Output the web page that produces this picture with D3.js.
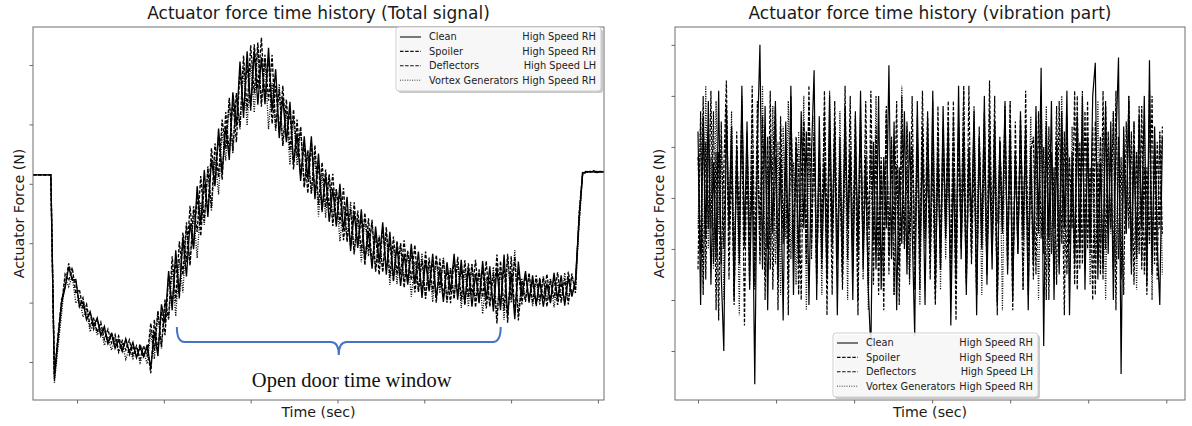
<!DOCTYPE html>
<html><head><meta charset="utf-8">
<script src="https://cdn.jsdelivr.net/npm/d3@7"></script>
<style>body{margin:0;background:#fff}svg text{font-family:"DejaVu Sans",sans-serif}</style>
</head><body><svg id="c" width="1192" height="426"></svg>
<script>
// ---------- legend / series ----------
const seriesNames = ["Clean", "Spoiler", "Deflectors", "Vortex Generators"];
const seriesCases = ["High Speed RH", "High Speed RH", "High Speed LH", "High Speed RH"];

// ---------- Total signal (left), uniformly sampled over the time range ----------
const totalTime = [-5.07, 60.7];
const totalClean = [315,315,315,315,315,315,-25,40,100,125,160,138,139,95,101,71,85,61,74,44,60,32,47,23,37,18,39,17,33,7,25,9,29,-11,51,10,97,65,153,87,188,112,209,144,234,190,296,231,323,244,341,296,393,317,397,340,454,397,506,411,523,428,524,433,513,434,529,423,493,377,446,370,438,334,384,305,380,308,380,274,351,256,315,236,292,228,300,222,278,187,252,192,257,171,221,157,228,168,235,147,219,139,197,128,182,130,199,132,186,108,171,119,182,108,155,101,168,118,182,105,172,99,159,93,149,99,170,105,161,85,159,87,181,77,150,72,169,110,153,100,146,97,137,93,132,99,150,106,146,95,142,110,138,240,318,320,321,320,319,320,320];
const totalSpoiler = [315,315,315,315,315,315,-30,35,95,148,137,159,115,122,89,98,60,73,50,67,38,55,32,46,19,36,20,37,11,27,5,27,9,65,19,86,25,105,73,178,102,203,146,235,162,262,219,313,237,326,259,368,311,408,359,445,355,453,396,516,424,533,452,538,430,517,440,517,393,459,364,442,356,425,346,396,294,356,284,365,265,336,261,316,229,291,233,293,202,258,181,255,186,251,187,237,152,210,151,227,143,211,147,200,125,187,138,197,118,173,106,176,117,180,125,173,100,156,106,177,104,171,109,165,92,156,109,170,93,150,65,170,87,182,106,177,70,136,101,150,99,146,103,142,93,138,108,151,100,140,97,149,116,250,316,321,320,322,320,321,320];
const totalDeflectors = [315,315,315,315,315,315,-20,45,105,127,166,140,135,93,108,74,81,55,72,47,55,31,50,29,44,20,36,12,27,9,30,10,25,-19,71,18,85,45,145,96,169,107,218,168,263,194,281,212,299,254,360,301,379,307,421,351,438,370,495,422,501,423,535,460,546,439,512,401,465,387,465,375,424,324,408,315,366,284,370,283,332,252,324,257,317,233,288,205,257,195,269,196,244,163,242,165,215,147,227,156,202,135,204,147,205,133,187,117,167,116,186,123,171,100,174,109,157,99,174,112,157,95,166,112,172,102,158,90,142,93,181,93,165,66,178,83,153,97,148,105,136,94,142,106,148,102,142,96,133,101,152,112,134,235,319,320,319,321,320,320,321];
const totalVortex = [315,315,315,315,315,315,-35,25,80,142,127,144,99,109,76,88,51,67,45,58,28,43,20,39,16,30,5,22,6,24,-1,16,-3,51,5,84,23,103,71,158,77,174,117,225,166,251,175,269,231,330,254,344,282,388,339,441,351,449,392,495,398,502,420,528,437,507,392,469,389,468,364,423,332,410,331,396,294,356,283,350,245,318,243,315,241,291,203,263,206,270,184,241,168,242,178,240,155,213,155,218,130,195,131,199,135,185,110,169,120,183,109,164,101,171,116,176,103,159,108,168,91,155,93,164,102,154,81,142,95,160,76,159,71,177,100,188,81,141,106,147,94,138,96,145,103,141,92,135,105,150,103,144,120,228,315,319,320,320,321,319,320];

// ---------- Vibration part (right) ----------
const vibTime = [0, 59.5];
const vibClean = [130,-210,160,-80,190,-170,70,-120,210,-150,-300,180,-60,140,-200,100,-130,220,-90,150,-180,60,-365,110,300,-140,180,-220,120,-70,190,-160,80,-240,150,-100,220,-190,110,-130,170,-60,130,-210,90,250,-200,160,-120,70,-160,200,-80,140,-230,120,-150,180,-60,90,-200,160,-110,210,-140,80,-180,-300,110,-140,200,-180,80,-60,260,-120,150,-220,60,-90,170,-150,130,-60,-270,190,-110,100,-210,160,-110,210,-180,90,-140,180,-80,150,-250,60,-160,220,-120,130,-190,100,-50,170,-230,120,-100,200,-170,80,-140,150,-210,110,-60,190,-150,130,-200,90,-110,170,-80,140,-220,100,-130,180,-60,255,-290,140,-80,190,-200,110,-150,170,-60,210,-230,90,-130,160,-100,200,-180,120,-90,200,265,-160,70,-140,180,-110,150,-200,110,275,-345,140,-70,190,-150,100,-120,160,-60,200,-170,270,-150,140,-90,-210,120];
const vibSpoiler = [-140,170,-190,110,-60,210,-130,90,-240,150,-100,180,-160,70,-210,130,-110,190,-90,60,-170,220,-120,100,-60,160,-200,120,-140,80,180,-220,140,-90,60,-160,200,-120,100,-190,40,150,-130,220,-100,120,-150,80,-50,170,-230,130,-90,190,-120,70,-180,110,-60,200,-140,90,-230,150,-100,40,-170,210,-90,120,-190,80,-110,180,-150,100,-70,190,-210,130,-90,60,-160,200,-120,100,-180,140,-60,170,-100,70,-210,120,-140,90,-40,190,-170,110,-240,150,-100,60,-160,220,-130,80,-190,140,-90,100,-150,230,-110,70,-200,120,-60,180,-140,100,-220,150,-80,110,-180,210,-120,60,-160,130,-70,200,-110,150,-200,90,-60,180,-130,110,-230,160,-90,60,-170,200,-140,120,-80,190,-110,140,-190,70,-150,210,-100,130,-60,170,-220,120,-160,90,-70,200,-130,150,-100,180,-140,60,-190,210,-110,90,-160,130,-70];
const vibDeflectors = [80,-110,200,-160,130,-60,170,-220,90,-130,60,230,-90,140,-190,100,-50,160,-250,120,-100,90,-170,190,-130,60,140,-100,210,-180,80,-120,160,-60,110,-230,180,-90,120,50,-200,150,-110,190,-80,130,-170,90,-140,210,-70,110,-190,150,-100,60,-160,220,-120,90,-80,170,-200,130,-100,190,-60,110,-170,140,-90,70,-220,170,-110,120,-190,60,-130,200,-100,150,-70,100,-180,130,-120,210,-80,60,-160,120,-200,180,-100,140,-60,90,-150,190,-130,110,-80,220,-170,70,-110,150,-190,100,-60,170,-140,120,-90,200,-230,110,-70,140,-120,190,-160,80,-100,160,-60,130,-190,90,120,-150,170,-80,100,-200,140,-110,60,-170,190,-90,130,-150,80,-60,210,-180,110,-130,170,-100,60,-200,150,-80,120,-160,190,-70,100,-140,210,-120,80,-190,150,-60,130,-170,90,-110,180,-150,60,-90,200,-130,110,-60,140];
const vibVortex = [-60,150,-170,220,-100,80,-140,190,-70,120,-200,140,-40,170,-120,90,-230,200,-100,130,-60,160,-180,80,-110,220,-150,60,-90,180,-130,110,-190,140,-80,190,-120,70,-170,130,-60,200,-220,100,-120,160,-90,60,-190,130,-150,210,-100,80,-130,170,-70,110,-200,150,-110,90,-50,180,-160,130,-220,100,-80,200,-120,60,-150,170,-110,120,-190,70,-130,220,-90,140,-170,100,-60,160,-210,120,-100,80,-140,190,-70,130,-180,110,-120,60,-200,160,-90,140,-60,210,-150,100,-110,180,-80,120,-190,70,-130,170,-100,150,-50,110,-220,140,-90,190,-160,80,-110,130,-180,60,-80,160,-130,100,-200,150,-70,180,-140,90,-160,120,-60,200,-110,70,-190,140,-100,160,-80,210,-140,110,-170,60,-120,190,-90,130,-200,100,-70,170,-130,90,-150,120,-60,200,-110,150,-180,80,-120,140,-90,160,-200,110,-70,130,-150];

// ---------- ticks (no labels in the original) ----------
const totalTicksX = [0, 10, 20, 30, 40, 50, 60];
const totalTicksY = [0, 100, 200, 300, 400, 500];
const vibTicksX = [0, 10, 20, 30, 40, 50, 60];
const vibTicksY = [-300, -200, -100, 0, 100, 200, 300];

const svg = d3.select("#c");
const styles = [
  {dash: null},
  {dash: "3.5,1.6"},
  {dash: "3.5,1.6"},
  {dash: "1,1.4"}
];

function panel(o) {
  const x = d3.scaleLinear().domain(o.xDomain).range([o.left, o.right]);
  const y = d3.scaleLinear().domain(o.yDomain).range([o.bottom, o.top]);
  const g = svg.append("g");
  const cid = "clip" + o.id;
  svg.append("clipPath").attr("id", cid).append("rect")
    .attr("x", o.left).attr("y", o.top).attr("width", o.right - o.left).attr("height", o.bottom - o.top);
  const lg = g.append("g").attr("clip-path", `url(#${cid})`);
  o.series.forEach((s, k) => {
    const n = s.length;
    const t = i => o.time[0] + (o.time[1] - o.time[0]) * i / (n - 1);
    const line = d3.line().x((d, i) => x(t(i))).y(d => y(d));
    lg.append("path").attr("d", line(s)).attr("fill", "none")
      .attr("stroke", "#000").attr("stroke-width", o.lineW)
      .attr("stroke-dasharray", styles[k].dash).attr("stroke-linejoin", "miter");
  });
  const ax = g.append("g").attr("transform", `translate(0,${o.bottom})`)
    .call(d3.axisBottom(x).tickValues(o.ticksX).tickFormat("").tickSizeOuter(0).tickSizeInner(3.5));
  const ay = g.append("g").attr("transform", `translate(${o.left},0)`)
    .call(d3.axisLeft(y).tickValues(o.ticksY).tickFormat("").tickSizeOuter(0).tickSizeInner(3.5));
  [ax, ay].forEach(a => { a.select(".domain").remove(); a.selectAll("line").attr("stroke", "#666"); });
  g.append("rect").attr("x", o.left).attr("y", o.top).attr("width", o.right - o.left)
    .attr("height", o.bottom - o.top).attr("fill", "none").attr("stroke", "#6e6e6e").attr("stroke-width", 1);
  g.append("text").attr("x", (o.left + o.right) / 2).attr("y", o.top - 8).attr("text-anchor", "middle")
    .attr("font-size", 17).attr("fill", "#1a1a1a").text(o.title);
  g.append("text").attr("x", (o.left + o.right) / 2).attr("y", o.bottom + 17).attr("text-anchor", "middle")
    .attr("font-size", 14.2).attr("fill", "#1a1a1a").text("Time (sec)");
  g.append("text").attr("transform", `translate(${o.ylabelX},${(o.top + o.bottom) / 2}) rotate(-90)`)
    .attr("text-anchor", "middle").attr("font-size", 14.2).attr("fill", "#1a1a1a").text("Actuator Force (N)");
  const L = o.legend, w = 205, h = 64;
  const lgd = g.append("g");
  lgd.append("rect").attr("x", L.x + 2).attr("y", L.y + 2).attr("width", w).attr("height", h)
    .attr("rx", 3).attr("fill", "#888").attr("opacity", 0.45);
  lgd.append("rect").attr("x", L.x).attr("y", L.y).attr("width", w).attr("height", h)
    .attr("rx", 3).attr("fill", "#fff").attr("fill-opacity", 0.85).attr("stroke", "#cfcfcf");
  seriesNames.forEach((nm, k) => {
    const yy = L.y + 10 + k * 14.4;
    lgd.append("line").attr("x1", L.x + 4).attr("x2", L.x + 25).attr("y1", yy).attr("y2", yy)
      .attr("stroke", "#111").attr("stroke-width", k === 3 ? 0.8 : 1.1).attr("stroke-dasharray", styles[k].dash);
    lgd.append("text").attr("x", L.x + 33).attr("y", yy + 3.4).attr("font-size", 9.8).attr("fill", "#222").text(nm);
    lgd.append("text").attr("x", L.x + w - 5).attr("y", yy + 3.4).attr("text-anchor", "end")
      .attr("font-size", 9.8).attr("fill", "#222").text(seriesCases[k]);
  });
  return {x, y, g};
}

const left = panel({
  id: "L", left: 33, right: 604, top: 27, bottom: 400,
  xDomain: [-5.07, 60.7], yDomain: [-64, 564], time: totalTime, lineW: 1.35,
  series: [totalClean, totalSpoiler, totalDeflectors, totalVortex],
  ticksX: totalTicksX, ticksY: totalTicksY,
  title: "Actuator force time history (Total signal)", ylabelX: 24,
  legend: {x: 396, y: 27}
});
const right = panel({
  id: "R", left: 675, right: 1185, top: 27, bottom: 400,
  xDomain: [-2.95, 62.4], yDomain: [-396, 335], time: vibTime, lineW: 1.2,
  series: [vibClean, vibSpoiler, vibDeflectors, vibVortex],
  ticksX: vibTicksX, ticksY: vibTicksY,
  title: "Actuator force time history (vibration part)", ylabelX: 664,
  legend: {x: 833, y: 333}
});

// Open door window annotation (data coordinates of the left panel)
const windowStart = 11.5, windowEnd = 48.8, braceVal = 33.6;
const bx0 = left.x(windowStart), bx1 = left.x(windowEnd), bm = (bx0 + bx1) / 2, by = left.y(braceVal);
left.g.append("path")
  .attr("d", `M${bx0},${by - 15} Q${bx0},${by} ${bx0 + 8},${by} L${bm - 8},${by} Q${bm},${by} ${bm},${by + 13} Q${bm},${by} ${bm + 8},${by} L${bx1 - 8},${by} Q${bx1},${by} ${bx1},${by - 15}`)
  .attr("fill", "none").attr("stroke", "#4472C4").attr("stroke-width", 2);
left.g.append("text").attr("x", bm + 13).attr("y", by + 45).attr("text-anchor", "middle")
  .style("font-family", "'Liberation Serif','Times New Roman',serif")
  .attr("font-size", 20.5).attr("fill", "#111").text("Open door time window");
</script></body></html>
